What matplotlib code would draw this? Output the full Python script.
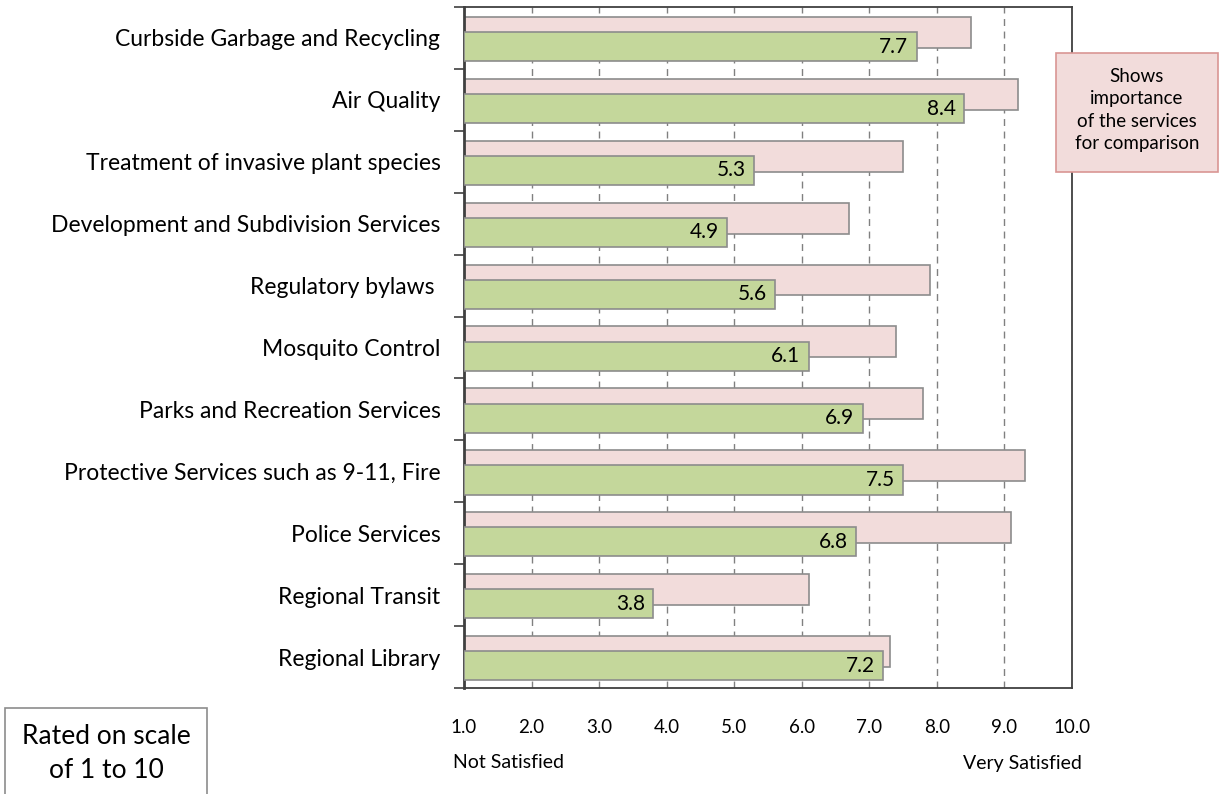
import numpy as np
import matplotlib.pyplot as plt
from matplotlib.ticker import FixedLocator
from matplotlib.patches import Rectangle

plt.rcParams['font.family'] = ['Lato', 'DejaVu Sans']

services = ['Curbside Garbage and Recycling', 'Air Quality',
            'Treatment of invasive plant species',
            'Development and Subdivision Services', 'Regulatory bylaws ',
            'Mosquito Control', 'Parks and Recreation Services',
            'Protective Services such as 9-11, Fire', 'Police Services',
            'Regional Transit', 'Regional Library']
importance = [8.5, 9.2, 7.5, 6.7, 7.9, 7.4, 7.8, 9.3, 9.1, 6.1, 7.3]
satisfaction = [7.7, 8.4, 5.3, 4.9, 5.6, 6.1, 6.9, 7.5, 6.8, 3.8, 7.2]
xticks = [1, 2, 3, 4, 5, 6, 7, 8, 9, 10]

y = np.arange(len(services))
base = 1.0
W, H = 1219, 794

# ******************************
fig = plt.figure(figsize=(W / 100, H / 100), dpi=100)
ax = fig.add_axes([464 / W, 1 - 688 / H, 608 / W, 681 / H])

ax.barh(y - 0.09, np.array(importance) - base, 0.5, left=base,
        color='#F2DCDB', edgecolor='#8c8c8c', linewidth=1.2, zorder=2)
ax.barh(y + 0.14, np.array(satisfaction) - base, 0.47, left=base,
        color='#C4D79B', edgecolor='#8c8c8c', linewidth=1.2, zorder=3)

for yy, v in zip(y + 0.14, satisfaction):
    ax.annotate(f'{v:.1f}', (v, yy), xytext=(-6, 0), textcoords='offset points',
                ha='right', va='center', fontsize=15, zorder=4)

ax.set_xlim(1, 10)
ax.set_ylim(len(services) - 0.5, -0.5)
ax.set_xticks(xticks, [f'{t:.1f}' for t in xticks], fontsize=13.5)
ax.tick_params(axis='x', length=0, pad=22)
ax.set_yticks(y, services, fontsize=16.5)
ax.tick_params(axis='y', which='major', length=0, pad=17)
ax.yaxis.set_minor_locator(FixedLocator(np.arange(-0.5, len(services), 1)))
ax.tick_params(axis='y', which='minor', length=7, width=1.2, color='#404040',
               direction='out')

ax.grid(axis='x', linestyle=(0, (5, 4)), color='#808080', linewidth=1, zorder=1)
ax.set_axisbelow(True)
for s in ax.spines.values():
    s.set_color('#404040')
    s.set_linewidth(1.3)
ax.spines['left'].set_linewidth(2.0)

fig.text(453 / W, 1 - 763 / H, 'Not Satisfied', fontsize=14,
         ha='left', va='center')
fig.text(1082 / W, 1 - 763 / H, 'Very Satisfied', fontsize=14,
         ha='right', va='center')

# importance note
fig.patches.append(Rectangle((1056 / W, 1 - 172 / H), 162 / W, 119 / H,
                             transform=fig.transFigure, facecolor='#F2DCDB',
                             edgecolor='#D99694', linewidth=1.2))
fig.text(1137 / W, 1 - 110 / H,
         'Shows\nimportance\nof the services\nfor comparison',
         fontsize=13.5, ha='center', va='center', linespacing=1.4)

# scale note
fig.patches.append(Rectangle((5 / W, -0.02), 202 / W, 1 - 708 / H + 0.02,
                             transform=fig.transFigure, facecolor='white',
                             edgecolor='#8c8c8c', linewidth=1.2))
fig.text(106 / W, 1 - 753 / H, 'Rated on scale\nof 1 to 10',
         fontsize=19, ha='center', va='center', linespacing=1.45)
# ******************************

fig.savefig('out.png')
